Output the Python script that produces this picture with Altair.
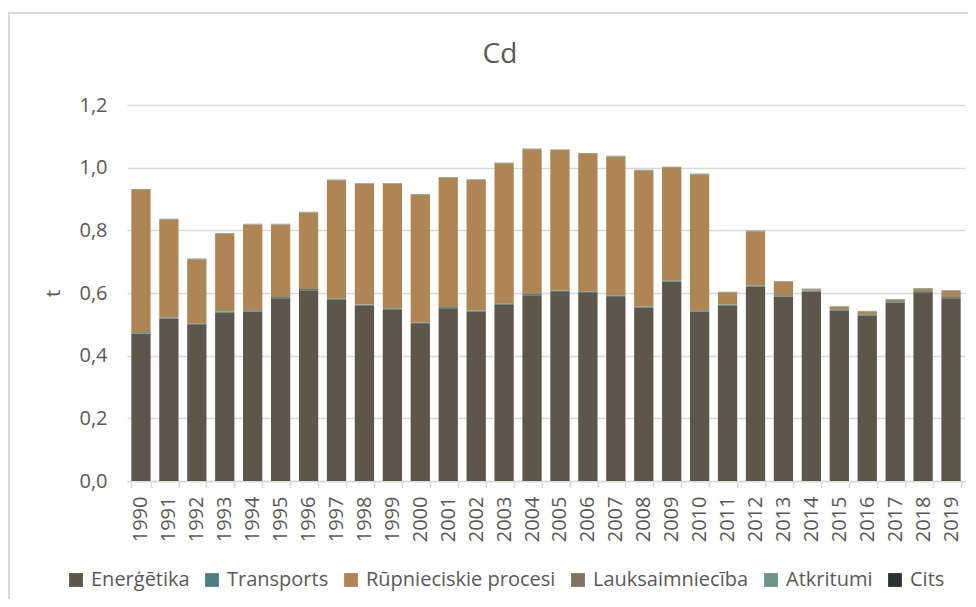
import altair as alt
import pandas as pd

years = [str(y) for y in range(1990, 2020)]
energetika = [0.471, 0.518, 0.498, 0.537, 0.541, 0.583, 0.609, 0.578, 0.559, 0.546,
              0.501, 0.551, 0.540, 0.562, 0.593, 0.603, 0.600, 0.587, 0.553, 0.636,
              0.541, 0.559, 0.620, 0.589, 0.604, 0.544, 0.528, 0.570, 0.602, 0.583]
transports = [0.004] * 30
rupnieciba = [0.455, 0.313, 0.206, 0.248, 0.274, 0.232, 0.244, 0.378, 0.386, 0.399,
              0.409, 0.413, 0.417, 0.448, 0.462, 0.449, 0.441, 0.445, 0.434, 0.361,
              0.434, 0.039, 0.173, 0.043, 0.004, 0.008, 0.009, 0.005, 0.008, 0.020]
lauksaimnieciba = [0.0] * 30
atkritumi = [0.002] * 30
cits = [0.0] * 30

series = ["Enerģētika", "Transports", "Rūpnieciskie procesi", "Lauksaimniecība", "Atkritumi", "Cits"]
colors = ["#5E554B", "#4E7F82", "#AE8655", "#80725F", "#6C9487", "#2B3033"]
values = [energetika, transports, rupnieciba, lauksaimnieciba, atkritumi, cits]

rows = []
for i, (name, vals) in enumerate(zip(series, values)):
    for y, v in zip(years, vals):
        rows.append({"Gads": y, "Sektors": name, "t": v, "ord": i})
df = pd.DataFrame(rows)

FONT = "Open Sans"
GREY = "#595959"

bars = alt.Chart(df).mark_bar().encode(
    x=alt.X("Gads:N", sort=years,
            scale=alt.Scale(paddingInner=0.31, paddingOuter=0.155),
            axis=alt.Axis(title=None, labelAngle=270, labelAlign="right", labelBaseline="middle",
                          labelFont=FONT, labelFontSize=20, labelColor=GREY, labelPadding=8,
                          domainColor="#D9D9D9", domainWidth=1.5, tickColor="#D9D9D9",
                          tickWidth=1.5, tickSize=7, tickBand="extent", grid=False)),
    y=alt.Y("t:Q", stack="zero",
            scale=alt.Scale(domain=[0, 1.2], nice=False),
            axis=alt.Axis(title="t", values=[0, 0.2, 0.4, 0.6, 0.8, 1.0, 1.2],
                          labelExpr="replace(format(datum.value, '.1f'), '.', ',')",
                          labelFont=FONT, labelFontSize=20, labelColor=GREY, labelPadding=20,
                          domain=False, ticks=False, gridColor="#D9D9D9", gridWidth=1.5,
                          titleFont=FONT, titleFontSize=20, titleColor=GREY,
                          titleFontWeight="normal", titleAngle=270, titleX=-74, titleY=188,
                          titleAlign="center", titleBaseline="middle")),
    color=alt.Color("Sektors:N", sort=series,
                    scale=alt.Scale(domain=series, range=colors),
                    legend=alt.Legend(title=None, orient="none", direction="horizontal",
                                      legendX=-61, legendY=465, columns=6,
                                      symbolType="square", symbolSize=190, symbolStrokeWidth=0,
                                      symbolOpacity=1, labelFont=FONT, labelFontSize=20,
                                      labelColor=GREY, columnPadding=12, labelOffset=5,
                                      labelLimit=400)),
    order=alt.Order("ord:Q", sort="ascending"),
)

frame = alt.Chart(pd.DataFrame({"a": [0]})).mark_rect(
    fill=None, stroke="#D9D9D9", strokeWidth=2
).encode(x=alt.value(-118), x2=alt.value(900), y=alt.value(-92), y2=alt.value(560))

chart = alt.layer(frame, bars).properties(
    width=838, height=376,
    padding={"left": 119, "top": 97, "right": 3, "bottom": 118},
    autosize="none",
    title=alt.TitleParams("Cd", font=FONT, fontSize=28, fontWeight="normal", color=GREY,
                          anchor="middle", dx=-46, offset=-57),
).configure_view(stroke=None)

chart.save("out.html", embed_options={"renderer": "svg", "actions": False})
